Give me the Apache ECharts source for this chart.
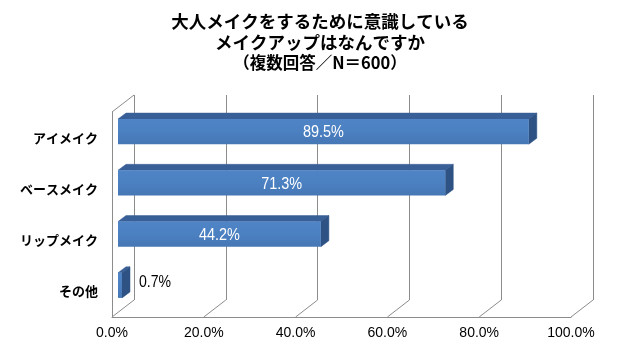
<!DOCTYPE html>
<html><head><meta charset="utf-8">
<script src="https://cdn.jsdelivr.net/npm/echarts@6/dist/echarts.min.js"></script>
<style>html,body{margin:0;padding:0;background:#fff}#c{width:640px;height:349px}</style>
</head><body><div id="c"></div>
<script>
var categories = ['アイメイク', 'ベースメイク', 'リップメイク', 'その他'];
var values = [89.5, 71.3, 44.2, 0.7];
var xTicks = [0, 20, 40, 60, 80, 100];
var titleLines = ['大人メイクをするために意識している', 'メイクアップはなんですか'];
var subTitle = '（複数回答／N＝600）';

var SANS = '"Liberation Sans", Arial, sans-serif';
var JP = '"Noto Sans CJK JP", sans-serif';
var GRID_COLOR = '#8c8c8c';
// oblique projection offsets
var FLOOR_DX = -22, FLOOR_DY = 17;   // back wall -> front edge
var FACE_DX = -16, FACE_DY = 11;     // back wall -> bar front face
var DEPTH_DX = 8, DEPTH_DY = 6;      // bar depth

function renderBar(params, api) {
  var v = api.value(0), c = api.value(1);
  var p0 = api.coord([0, c]);
  var p1 = api.coord([v, c]);
  var band = api.size([0, 1])[1];
  var h = band * 0.49;
  var x0 = p0[0] + FACE_DX, x1 = Math.max(p1[0] + FACE_DX, x0 + 4);
  var yc = p0[1] + FACE_DY;
  var y0 = yc - h / 2, y1 = yc + h / 2;
  var children = [
    {type: 'polygon', shape: {points: [[x0, y0], [x1, y0], [x1 + DEPTH_DX, y0 - DEPTH_DY], [x0 + DEPTH_DX, y0 - DEPTH_DY]]},
     style: {fill: '#385f97', stroke: '#385f97', lineWidth: 0.5}},
    {type: 'polygon', shape: {points: [[x1, y0], [x1 + DEPTH_DX, y0 - DEPTH_DY], [x1 + DEPTH_DX, y1 - DEPTH_DY], [x1, y1]]},
     style: {fill: '#2f5284', stroke: '#2f5284', lineWidth: 0.5}},
    {type: 'rect', shape: {x: x0, y: y0, width: x1 - x0, height: h},
     style: {fill: new echarts.graphic.LinearGradient(0, 0, 0, 1, [
       {offset: 0, color: '#4f84c6'}, {offset: 0.5, color: '#4b80c1'}, {offset: 1, color: '#4677b5'}])}}
  ];
  var txt = v.toFixed(1) + '%';
  if (x1 - x0 > 60) {
    children.push({type: 'text', x: (x0 + x1) / 2, y: yc + 1, scaleX: 0.85,
      style: {text: txt, x: 0, y: 0, align: 'center', verticalAlign: 'middle',
      fill: '#ffffff', font: '17px ' + SANS}});
  } else {
    children.push({type: 'text', x: x1 + DEPTH_DX + 9, y: yc - 3, scaleX: 0.88,
      style: {text: txt, x: 0, y: 0, align: 'left', verticalAlign: 'middle',
      fill: '#000000', font: '16px ' + SANS}});
  }
  return {type: 'group', children: children};
}

function renderFloor(params, api) {
  var v = api.value(0);
  var cs = params.coordSys;
  var x = api.coord([v, 0])[0];
  var bottom = cs.y + cs.height, top = cs.y;
  var lines = [{type: 'line', shape: {x1: x, y1: bottom, x2: x + FLOOR_DX, y2: bottom + FLOOR_DY},
    style: {stroke: GRID_COLOR, lineWidth: 1}}];
  if (v === xTicks[0]) {
    lines.push({type: 'line', shape: {x1: x, y1: top, x2: x + FLOOR_DX, y2: top + FLOOR_DY},
      style: {stroke: GRID_COLOR, lineWidth: 1}});
  }
  return {type: 'group', children: lines};
}

var chart = echarts.init(document.getElementById('c'), null, {renderer: 'canvas'});
chart.setOption({
  animation: false,
  backgroundColor: '#ffffff',
  title: {
    text: titleLines.join('\n'),
    subtext: subTitle,
    left: 'center', top: 11, itemGap: 0, padding: 0,
    textStyle: {fontFamily: JP, fontSize: 17.5, fontWeight: 'bold', color: '#000', lineHeight: 21},
    subtextStyle: {fontFamily: JP, fontSize: 16.5, fontWeight: 'bold', color: '#000', lineHeight: 19}
  },
  grid: [
    {left: 134, top: 95, width: 459, height: 205},
    {left: 112, top: 112, width: 459, height: 205}
  ],
  xAxis: [
    {gridIndex: 0, type: 'value', min: 0, max: 100, interval: 20,
     axisLine: {show: false}, axisTick: {show: false}, axisLabel: {show: false},
     splitLine: {show: true, lineStyle: {color: GRID_COLOR, width: 1}}},
    {gridIndex: 1, type: 'value', min: 0, max: 100, interval: 20,
     axisLine: {show: true, lineStyle: {color: GRID_COLOR, width: 1}}, axisTick: {show: false},
     splitLine: {show: false},
     axisLabel: {margin: 9, color: '#000', fontSize: 14, fontFamily: SANS,
       formatter: function (v) { return v.toFixed(1) + '%'; }}}
  ],
  yAxis: [
    {gridIndex: 0, type: 'category', data: categories, inverse: true,
     axisLine: {show: false}, axisTick: {show: false}, axisLabel: {show: false}, splitLine: {show: false}},
    {gridIndex: 1, type: 'category', data: categories, inverse: true,
     axisLine: {show: true, lineStyle: {color: GRID_COLOR, width: 1}}, axisTick: {show: false},
     splitLine: {show: false},
     axisLabel: {margin: 14, color: '#000', fontSize: 13, fontFamily: JP, fontWeight: 'bold'}}
  ],
  series: [
    {type: 'custom', xAxisIndex: 0, yAxisIndex: 0, renderItem: renderFloor, z: 1,
     data: xTicks.map(function (t) { return [t, 0]; })},
    {type: 'custom', xAxisIndex: 0, yAxisIndex: 0, renderItem: renderBar, z: 5,
     data: values.map(function (v, i) { return [v, i]; })}
  ]
});
</script></body></html>
